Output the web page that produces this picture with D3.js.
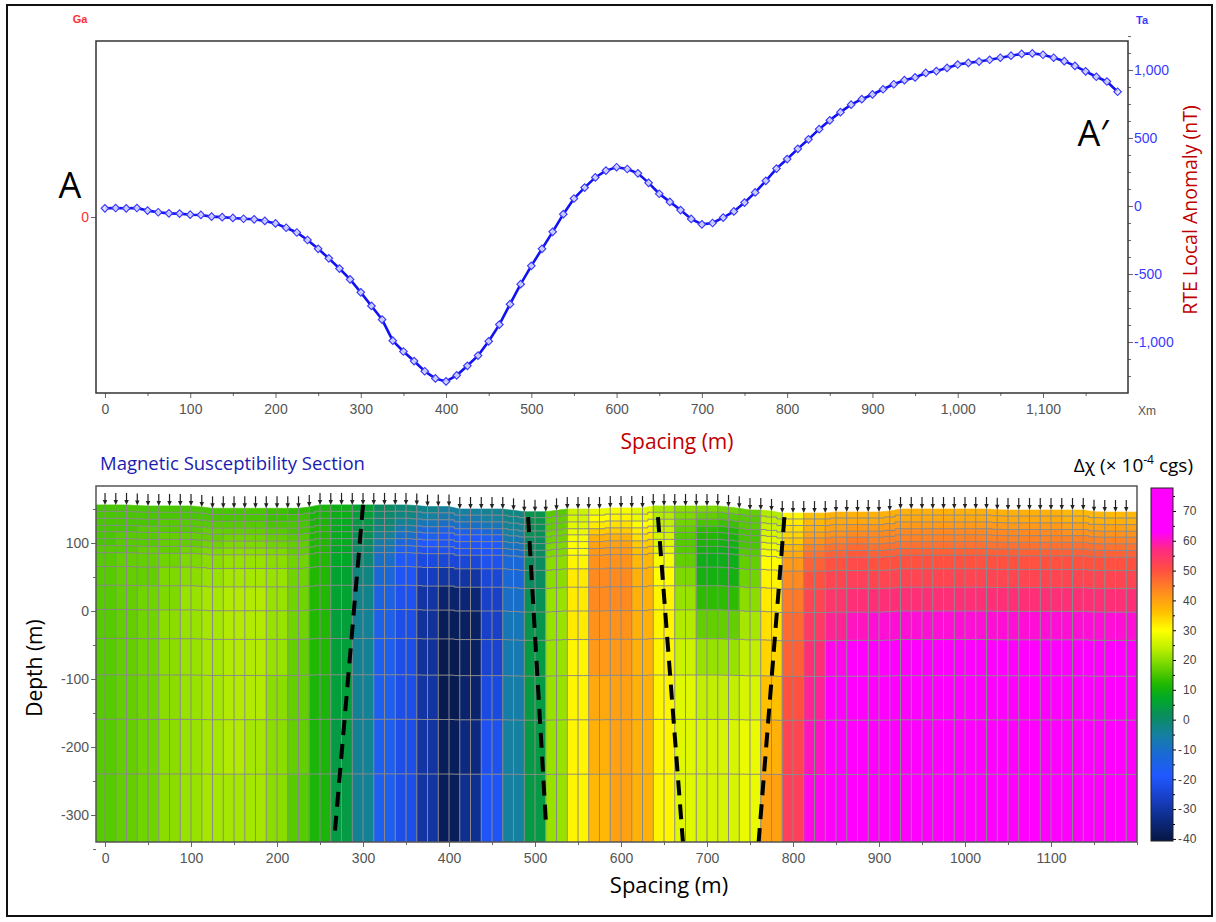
<!DOCTYPE html>
<html>
<head>
<meta charset="utf-8">
<script src="https://cdn.jsdelivr.net/npm/d3@7"></script>
<style>
    body { margin: 0; background: #fff; }
    svg text { font-family: "Liberation Sans", Arial, sans-serif; }
    .title { font-family: "Open Sans", sans-serif; }
</style>
</head>
<body>
<div id="chart"></div>
<script>
// Station spacing along the profile (m)
const stationStep = 12.5;

// RTE local magnetic anomaly (nT), one value per station
const rteAnomaly = [
    -17, -15, -17, -15, -34, -46, -54, -56,
    -64, -66, -78, -82, -88, -94, -98, -110,
    -128, -160, -195, -250, -315, -385, -460, -540,
    -635, -735, -835, -990, -1070, -1140, -1215, -1268,
    -1290, -1245, -1175, -1100, -995, -872, -722, -575,
    -440, -315, -190, -60, 55, 135, 210, 260,
    285, 272, 240, 170, 90, 30, -30, -95,
    -135, -125, -85, -40, 25, 100, 185, 275,
    345, 420, 490, 565, 630, 690, 745, 785,
    820, 858, 895, 925, 945, 978, 992, 1015,
    1040, 1052, 1062, 1075, 1090, 1105, 1118, 1122,
    1112, 1090, 1065, 1030, 990, 950, 915, 840
];

// Ground surface elevation (m) at each station
const surfaceElev = [
    156, 156, 156, 155, 154.5, 154.5, 154.5, 154.5,
    154.5, 153, 151, 151, 151, 151, 151, 151,
    151, 151, 151, 153, 156, 156, 156, 156,
    156, 156, 156, 156, 156, 155, 153.5, 153.5,
    153.5, 150, 150, 150, 150, 150, 148, 146,
    146, 146, 148, 150, 150, 150, 150, 151.5,
    151.5, 151.5, 151.5, 154.5, 154.5, 154.5, 154.5, 154.5,
    154.5, 154.5, 153, 151, 148.5, 148.5, 147, 144,
    144, 144, 144, 144, 145.5, 145.5, 145.5, 145.5,
    145.5, 147, 150, 150, 150, 150, 150, 150,
    150, 150, 150, 149, 148.5, 148.5, 148.5, 148.5,
    148.5, 148.5, 148.5, 148.5, 146, 145.5, 145.5, 145.5
];

// Model layers: depth below surface of each layer boundary (m)
const layerDepths = [0, 9, 19, 29, 38, 48, 58, 68, 88, 115, 150, 192, 245, 310, 390, 520];

// Susceptibility model, one column every 25 m (0..1200), top layer first (x 10^-4 cgs)
const columnStep = 25;
const chiColumns = [
    [15, 15, 15, 15, 15, 15, 16, 16, 16, 16, 16, 16, 16, 16, 16],
    [15, 15, 15, 15, 16, 16, 16, 17, 17, 17, 17, 17, 17, 17, 17],
    [15, 15, 15, 16, 16, 16, 17, 17, 17, 18, 18, 18, 18, 18, 18],
    [15, 15, 16, 16, 17, 17, 17, 18, 19, 19, 20, 20, 20, 20, 20],
    [15, 15, 16, 16, 17, 17, 18, 19, 20, 21, 21, 21, 21, 21, 21],
    [15, 15, 16, 17, 17, 18, 19, 20, 21, 22, 22, 22, 22, 22, 22],
    [15, 15, 16, 17, 18, 19, 20, 21, 22, 23, 23, 23, 23, 23, 22],
    [15, 15, 16, 17, 18, 19, 20, 21, 22, 23, 23, 23, 23, 22, 22],
    [14, 14, 15, 16, 17, 18, 19, 20, 21, 21, 21, 21, 20, 20, 20],
    [13, 14, 15, 15, 16, 17, 17, 18, 18, 18, 18, 17, 17, 17, 16],
    [11, 11, 11, 12, 12, 12, 12, 12, 12, 12, 12, 12, 11, 11, 11],
    [9, 9, 8, 8, 8, 8, 7, 7, 6, 6, 5, 5, 5, 4, 4],
    [6, 5, 4, 3, 2, 1, 0, -1, -2, -3, -4, -4, -4, -4, -4],
    [1, 0, -1, -2, -4, -6, -8, -10, -12, -14, -15, -16, -16, -16, -16],
    [-1, -2, -4, -7, -10, -13, -16, -18, -20, -21, -22, -22, -22, -22, -22],
    [-3, -5, -8, -12, -16, -19, -21, -23, -27, -30, -31, -31, -30, -30, -30],
    [-5, -7, -10, -15, -19, -20, -21, -24, -30, -36, -38, -39, -39, -38, -38],
    [-5, -7, -10, -15, -19, -20, -21, -24, -30, -35, -37, -37, -36, -34, -32],
    [-4, -5, -8, -12, -17, -19, -20, -21, -24, -26, -26, -25, -23, -21, -20],
    [-2, -3, -4, -5, -7, -9, -11, -12, -12, -10, -8, -7, -6, -5, -5],
    [3, 3, 2, 2, 1, 1, 1, 1, 1, 2, 3, 4, 4, 4, 4],
    [16, 17, 17, 18, 18, 19, 19, 20, 20, 21, 21, 21, 21, 21, 21],
    [25, 26, 27, 28, 29, 30, 30, 31, 32, 32, 32, 31, 31, 31, 31],
    [28, 30, 32, 35, 38, 40, 41, 42, 43, 43, 42, 41, 39, 38, 37],
    [29, 31, 33, 35, 38, 40, 41, 42, 43, 43, 42, 41, 40, 40, 40],
    [27, 28, 30, 32, 33, 35, 36, 37, 38, 38, 38, 38, 38, 38, 38],
    [22, 23, 24, 25, 26, 27, 28, 29, 30, 31, 31, 31, 31, 31, 31],
    [20, 19, 18, 17, 16, 16, 16, 17, 19, 21, 23, 25, 27, 27, 27],
    [19, 17, 15, 13, 12, 11, 10, 9, 10, 13, 17, 21, 24, 26, 26],
    [18, 16, 14, 12, 11, 10, 9, 9, 10, 13, 17, 21, 24, 26, 26],
    [17, 16, 16, 15, 15, 15, 16, 17, 18, 20, 22, 24, 26, 28, 28],
    [23, 24, 25, 26, 27, 28, 29, 30, 31, 32, 33, 34, 36, 38, 40],
    [31, 32, 33, 34, 35, 37, 39, 41, 43, 45, 47, 48, 50, 52, 53],
    [36, 37, 38, 40, 42, 44, 46, 48, 50, 52, 54, 56, 58, 60, 62],
    [38, 39, 40, 42, 44, 46, 48, 50, 52, 55, 58, 62, 66, 70, 73],
    [38, 39, 41, 43, 45, 47, 49, 51, 53, 56, 60, 66, 72, 76, 77],
    [38, 39, 41, 43, 44, 46, 48, 50, 52, 56, 61, 67, 74, 77, 77],
    [38, 39, 41, 43, 44, 46, 48, 50, 52, 56, 61, 67, 74, 77, 77],
    [38, 39, 41, 43, 44, 46, 48, 50, 52, 56, 61, 67, 74, 77, 77],
    [38, 39, 41, 43, 44, 46, 48, 50, 52, 56, 61, 67, 74, 77, 77],
    [38, 39, 41, 43, 44, 46, 48, 50, 52, 56, 61, 67, 74, 77, 77],
    [38, 39, 41, 43, 44, 46, 48, 50, 52, 56, 61, 67, 74, 77, 77],
    [38, 39, 41, 43, 44, 46, 48, 50, 52, 56, 61, 67, 74, 77, 77],
    [38, 39, 41, 43, 44, 46, 48, 50, 52, 56, 61, 67, 74, 77, 77],
    [38, 39, 41, 43, 44, 46, 48, 50, 52, 56, 61, 67, 74, 77, 77],
    [37, 38, 40, 42, 44, 46, 48, 50, 52, 56, 61, 67, 74, 77, 77],
    [37, 38, 40, 42, 44, 46, 48, 50, 52, 56, 61, 67, 74, 77, 77],
    [37, 38, 40, 42, 44, 46, 48, 50, 52, 56, 61, 67, 74, 77, 77],
    [37, 38, 40, 42, 44, 46, 48, 50, 52, 56, 61, 67, 74, 77, 77]
];

// Interpreted contacts: [spacing, elevation] at top and bottom
const faultLines = [
    [[300, 156], [267, -329]],
    [[492, 138], [513, -318]],
    [[643, 138], [672, -340]],
    [[790, 138], [760, -340]]
];

// Tick values
const profileTicks = [0, 100, 200, 300, 400, 500, 600, 700, 800, 900, 1000, 1100];
const anomalyTicks = [-1000, -500, 0, 500, 1000];
const depthTicks = [-300, -200, -100, 0, 100];
const chiTicks = [70, 60, 50, 40, 30, 20, 10, 0, -10, -20, -30, -40];

// Colour map of the section (value -> colour)
const chiStops = [-40, -33, -26, -19, -12, -5, 1, 7, 12, 18, 24, 30, 36, 43, 50, 57, 63, 78];
const chiColors = ["#061848", "#0e2c88", "#1840c8", "#2058ff", "#1a68d8", "#1580a0", "#0a8c60",
    "#00a828", "#20b800", "#70d400", "#c0f000", "#ffff00", "#ffc000", "#ff8a20",
    "#ff5040", "#ff2a80", "#ff00ff", "#ff00ff"];
const chiColor = d3.scaleLinear().domain(chiStops).range(chiColors).clamp(true);

const minusFix = f => d => f(d).replace("\u2212", "-");

const svg = d3.select("#chart")
    .append("svg")
    .attr("width", 1216)
    .attr("height", 922);

// Outer frame
svg.append("rect")
    .attr("x", 7).attr("y", 5)
    .attr("width", 1205).attr("height", 911)
    .attr("fill", "none")
    .attr("stroke", "#111")
    .attr("stroke-width", 2);

// ---------------- Profile (top) ----------------
const pTop = { left: 96, right: 1128, top: 41, bottom: 393 };

const xProf = d3.scaleLinear().domain([-10.5, 1199.7]).range([pTop.left, pTop.right]);
const yTa = d3.scaleLinear().domain([-1375, 1213]).range([pTop.bottom, pTop.top]);
const yGa = d3.scaleLinear().domain([-176, 176]).range([pTop.bottom, pTop.top]);

// x axis
const gxTop = svg.append("g")
    .attr("transform", `translate(0,${pTop.bottom})`)
    .call(d3.axisBottom(xProf).tickValues(profileTicks).tickSize(5).tickPadding(6)
        .tickFormat(d3.format(",")));
svg.append("g")
    .attr("transform", `translate(0,${pTop.bottom})`)
    .call(d3.axisBottom(xProf).tickValues(profileTicks.map(d => d + 50)).tickSize(3).tickFormat(""));

// right Ta axis
const gyTa = svg.append("g")
    .attr("transform", `translate(${pTop.right},0)`)
    .call(d3.axisRight(yTa).tickValues(anomalyTicks).tickSize(5).tickPadding(1)
        .tickFormat(minusFix(d3.format(","))));
svg.append("g")
    .attr("transform", `translate(${pTop.right},0)`)
    .call(d3.axisRight(yTa).tickValues(d3.range(-1250, 1251, 125)).tickSize(3).tickFormat(""));

// left Ga axis
const gyGa = svg.append("g")
    .attr("transform", `translate(${pTop.left},0)`)
    .call(d3.axisLeft(yGa).tickValues([0]).tickSize(5).tickPadding(2));

svg.selectAll(".domain").remove();
svg.selectAll(".tick line").attr("stroke", "#666");
gxTop.selectAll("text").attr("fill", "#555").style("font-size", "14px");
gyTa.selectAll("text").attr("fill", "#3a3aff").style("font-size", "14px");
gyGa.selectAll("text").attr("fill", "#ff3030").style("font-size", "14px");

// anomaly curve
const profileData = rteAnomaly.map((v, i) => ({ x: i * stationStep, v: v }));
const line = d3.line()
    .x(d => xProf(d.x))
    .y(d => yTa(d.v))
    .curve(d3.curveLinear);

svg.append("path")
    .datum(profileData)
    .attr("fill", "none")
    .attr("stroke", "#1212f0")
    .attr("stroke-width", 2.6)
    .attr("d", line);

svg.selectAll(".marker")
    .data(profileData)
    .enter()
    .append("path")
    .attr("class", "marker")
    .attr("d", d3.symbol().type(d3.symbolSquare).size(28))
    .attr("transform", d => `translate(${xProf(d.x)},${yTa(d.v)}) rotate(45)`)
    .attr("fill", "#e6e6ff")
    .attr("fill-opacity", 0.85)
    .attr("stroke", "#3a3aff")
    .attr("stroke-width", 1.2);

// box
svg.append("rect")
    .attr("x", pTop.left).attr("y", pTop.top)
    .attr("width", pTop.right - pTop.left).attr("height", pTop.bottom - pTop.top)
    .attr("fill", "none")
    .attr("stroke", "#333")
    .attr("stroke-width", 1.5);

// labels of the profile
svg.append("text").attr("x", 80).attr("y", 23).attr("text-anchor", "middle")
    .attr("fill", "#ff3030").style("font-size", "11px").style("font-weight", "bold").text("Ga");
svg.append("text").attr("x", 1142).attr("y", 24).attr("text-anchor", "middle")
    .attr("fill", "#3a3aff").style("font-size", "11px").style("font-weight", "bold").text("Ta");
svg.append("text").attr("x", 1147).attr("y", 415).attr("text-anchor", "middle")
    .attr("fill", "#555").style("font-size", "12px").text("Xm");

svg.append("text").attr("class", "title")
    .attr("x", 70).attr("y", 198).attr("text-anchor", "middle")
    .attr("fill", "#000").style("font-size", "36px").text("A");
svg.append("text").attr("class", "title")
    .attr("x", 1093).attr("y", 146).attr("text-anchor", "middle")
    .attr("fill", "#000").style("font-size", "36px").text("A\u2032");

svg.append("text").attr("class", "title")
    .attr("transform", "translate(1197,210) rotate(-90)")
    .attr("text-anchor", "middle")
    .attr("fill", "#c00000").style("font-size", "19.5px").text("RTE Local Anomaly (nT)");

svg.append("text").attr("class", "title")
    .attr("x", 677).attr("y", 449).attr("text-anchor", "middle")
    .attr("fill", "#c00000").style("font-size", "21px").text("Spacing (m)");

// ---------------- Section (bottom) ----------------
const pSec = { left: 96, right: 1137, top: 486, bottom: 842 };

const xSec = d3.scaleLinear().domain([-10.5, 1200]).range([pSec.left, pSec.right]);
const ySec = d3.scaleLinear().domain([-339.7, 183.8]).range([pSec.bottom, pSec.top]);

svg.append("defs").append("clipPath").attr("id", "secClip")
    .append("rect")
    .attr("x", pSec.left).attr("y", pSec.top)
    .attr("width", pSec.right - pSec.left).attr("height", pSec.bottom - pSec.top);

const nStations = surfaceElev.length;
function boundaryElev(i, depth) {
    const s = surfaceElev[Math.max(0, Math.min(nStations - 1, i))];
    return 150 + (s - 150) * Math.exp(-depth / 150) - depth;
}

const section = svg.append("g").attr("clip-path", "url(#secClip)");

// coloured cells
const cells = [];
chiColumns.forEach((col, c) => {
    col.forEach((v, l) => cells.push({ c: c, l: l, v: v }));
});

section.selectAll(".cell")
    .data(cells)
    .enter()
    .append("path")
    .attr("class", "cell")
    .attr("d", d => {
        const mid = d.c * columnStep / stationStep;
        const idx = [mid - 1, mid, mid + 1];
        const top = idx.map(i => [xSec(i * stationStep), ySec(boundaryElev(i, layerDepths[d.l]))]);
        const bot = idx.map(i => [xSec(i * stationStep), ySec(boundaryElev(i, layerDepths[d.l + 1]))]).reverse();
        return "M" + top.concat(bot).map(p => p.join(",")).join("L") + "Z";
    })
    .attr("fill", d => chiColor(d.v))
    .attr("stroke", d => chiColor(d.v))
    .attr("stroke-width", 0.6);

// mesh: vertical lines at stations
section.selectAll(".vmesh")
    .data(surfaceElev)
    .enter()
    .append("line")
    .attr("class", "vmesh")
    .attr("x1", (d, i) => xSec(i * stationStep))
    .attr("x2", (d, i) => xSec(i * stationStep))
    .attr("y1", d => ySec(d))
    .attr("y2", pSec.bottom)
    .attr("stroke", "#8a8a8a")
    .attr("stroke-width", 1);

// mesh: layer boundaries
const meshLine = d3.line().x(d => xSec(d[0])).y(d => ySec(d[1])).curve(d3.curveStepAfter);
section.selectAll(".hmesh")
    .data(layerDepths.slice(1))
    .enter()
    .append("path")
    .attr("class", "hmesh")
    .attr("d", dep => {
        const pts = [[-12.5, boundaryElev(0, dep)]];
        surfaceElev.forEach((s, i) => pts.push([i * stationStep - stationStep / 2, boundaryElev(i, dep)]));
        pts.push([1205, boundaryElev(nStations - 1, dep)]);
        return meshLine(pts);
    })
    .attr("fill", "none")
    .attr("stroke", "#8a8a8a")
    .attr("stroke-width", 1);

// interpreted contacts
const faultLine = d3.line().x(d => xSec(d[0])).y(d => ySec(d[1]));
section.selectAll(".fault")
    .data(faultLines)
    .enter()
    .append("path")
    .attr("class", "fault")
    .attr("d", faultLine)
    .attr("fill", "none")
    .attr("stroke", "#000")
    .attr("stroke-width", 4)
    .attr("stroke-dasharray", "15,9");

// station arrows
const arrows = svg.selectAll(".stn")
    .data(surfaceElev)
    .enter()
    .append("g")
    .attr("class", "stn")
    .attr("transform", (d, i) => `translate(${xSec(i * stationStep)},${ySec(d)})`);
arrows.append("line")
    .attr("y1", -12).attr("y2", -3)
    .attr("stroke", "#222").attr("stroke-width", 1.2);
arrows.append("path")
    .attr("d", "M-2.2,-5L2.2,-5L0,0Z")
    .attr("fill", "#222");

// section axes
const gySec = svg.append("g")
    .attr("transform", `translate(${pSec.left},0)`)
    .call(d3.axisLeft(ySec).tickValues(depthTicks).tickSize(5).tickPadding(2)
        .tickFormat(minusFix(d3.format("d"))));
svg.append("g")
    .attr("transform", `translate(${pSec.left},0)`)
    .call(d3.axisLeft(ySec).tickValues(depthTicks.map(d => d + 50).concat([-350])).tickSize(3).tickFormat(""));

const gxSec = svg.append("g")
    .attr("transform", `translate(0,${pSec.bottom})`)
    .call(d3.axisBottom(xSec).tickValues(profileTicks).tickSize(5).tickPadding(6)
        .tickFormat(d3.format("d")));
svg.append("g")
    .attr("transform", `translate(0,${pSec.bottom})`)
    .call(d3.axisBottom(xSec).tickValues(profileTicks.map(d => d + 50).concat([1200])).tickSize(3).tickFormat(""));

svg.selectAll(".domain").remove();
svg.selectAll(".tick line").attr("stroke", "#666");
gySec.selectAll("text").attr("fill", "#555").style("font-size", "14px");
gxSec.selectAll("text").attr("fill", "#555").style("font-size", "14px");

svg.append("rect")
    .attr("x", pSec.left).attr("y", pSec.top)
    .attr("width", pSec.right - pSec.left).attr("height", pSec.bottom - pSec.top)
    .attr("fill", "none")
    .attr("stroke", "#555")
    .attr("stroke-width", 1.5);

svg.append("text").attr("class", "title")
    .attr("x", 100).attr("y", 470)
    .attr("fill", "#1c1cb0").style("font-size", "18.5px").text("Magnetic Susceptibility Section");

svg.append("text").attr("class", "title")
    .attr("transform", "translate(42,668) rotate(-90)")
    .attr("text-anchor", "middle")
    .attr("fill", "#000").style("font-size", "21px").text("Depth (m)");

svg.append("text").attr("class", "title")
    .attr("x", 669).attr("y", 893).attr("text-anchor", "middle")
    .attr("fill", "#000").style("font-size", "22px").text("Spacing (m)");

const unitLabel = svg.append("text").attr("class", "title")
    .attr("x", 1193).attr("y", 472).attr("text-anchor", "end")
    .attr("fill", "#000").style("font-size", "19px");
unitLabel.append("tspan").text("\u0394\u03c7 (\u00d7 10");
unitLabel.append("tspan").attr("dy", -8).style("font-size", "12px").text("-4");
unitLabel.append("tspan").attr("dy", 8).text(" cgs)");

// ---------------- Colour bar ----------------
const cb = { left: 1151, right: 1173, top: 488, bottom: 841 };
const yCb = d3.scaleLinear().domain([-40.7, 77.7]).range([cb.bottom, cb.top]);

const grad = svg.select("defs").append("linearGradient")
    .attr("id", "cbGrad")
    .attr("x1", 0).attr("y1", 1).attr("x2", 0).attr("y2", 0);
grad.selectAll("stop")
    .data(chiStops.filter(v => v <= 77.7).concat([77.7]))
    .enter()
    .append("stop")
    .attr("offset", v => (v - (-40.7)) / (77.7 + 40.7))
    .attr("stop-color", v => chiColor(v));

svg.append("rect")
    .attr("x", cb.left).attr("y", cb.top)
    .attr("width", cb.right - cb.left).attr("height", cb.bottom - cb.top)
    .attr("fill", "url(#cbGrad)")
    .attr("stroke", "#222")
    .attr("stroke-width", 1);

svg.append("g")
    .attr("transform", `translate(${cb.right},0)`)
    .call(d3.axisRight(yCb).tickValues(chiTicks).tickSize(3).tickFormat(""))
    .call(g => g.select(".domain").remove());
svg.append("g")
    .attr("transform", `translate(${cb.right},0)`)
    .call(d3.axisRight(yCb).tickValues(chiTicks.slice(1).map(d => d + 5).concat([75])).tickSize(2).tickFormat(""))
    .call(g => g.select(".domain").remove());

const cbLabels = svg.selectAll(".cblabel")
    .data(chiTicks)
    .enter()
    .append("g")
    .attr("class", "cblabel")
    .attr("transform", d => `translate(1183,${yCb(d)})`);
cbLabels.append("text")
    .attr("dy", "0.36em")
    .attr("fill", "#444")
    .style("font-size", "12px")
    .text(d => Math.abs(d));
cbLabels.filter(d => d < 0).append("text")
    .attr("x", -1)
    .attr("dy", "0.36em")
    .attr("text-anchor", "end")
    .attr("fill", "#444")
    .style("font-size", "12px")
    .text("-");
</script>
</body>
</html>
